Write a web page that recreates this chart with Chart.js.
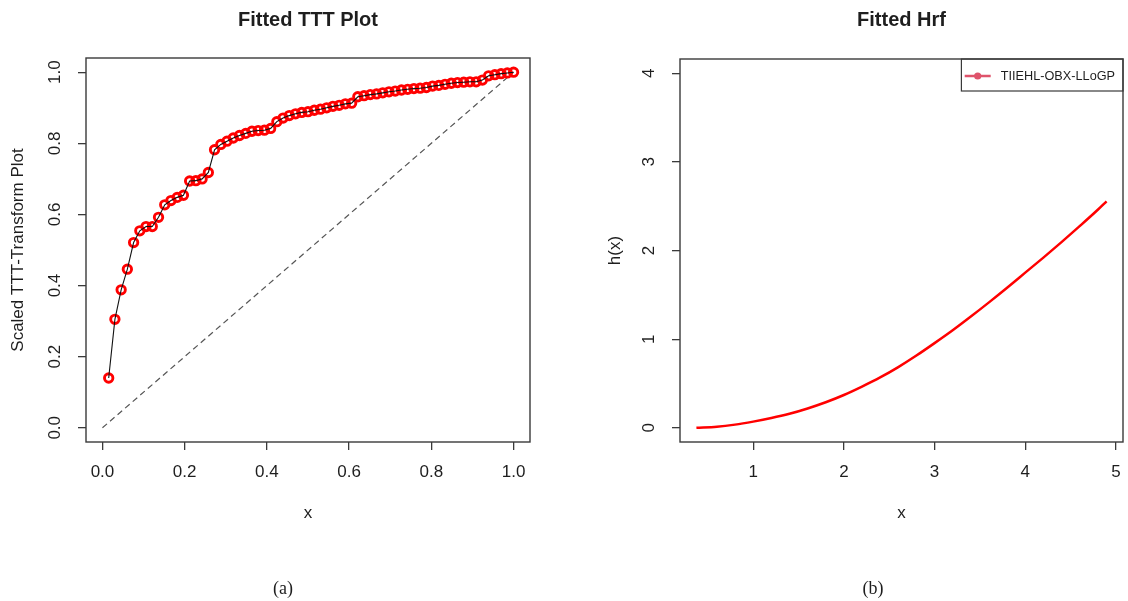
<!DOCTYPE html>
<html>
<head>
<meta charset="utf-8">
<script src="https://cdn.jsdelivr.net/npm/chart.js@4.4.0/dist/chart.umd.min.js"></script>
<style>
  html, body { margin: 0; padding: 0; background: #fff; width: 1128px; height: 601px; overflow: hidden; }
  .panel { position: absolute; top: 0; width: 564px; height: 601px; }
  #pa { left: 0; }
  #pb { left: 564px; }
</style>
</head>
<body>
<div class="panel" id="pa"><canvas id="ca" width="564" height="601"></canvas></div>
<div class="panel" id="pb"><canvas id="cb" width="564" height="601"></canvas></div>
<script>
// ---- Scaled TTT-transform data (i/n, T(i/n)) ----
const tttX = [0.0152, 0.0303, 0.0455, 0.0606, 0.0758, 0.0909, 0.1061, 0.1212, 0.1364, 0.1515,
              0.1667, 0.1818, 0.1970, 0.2121, 0.2273, 0.2424, 0.2576, 0.2727, 0.2879, 0.3030,
              0.3182, 0.3333, 0.3485, 0.3636, 0.3788, 0.3939, 0.4091, 0.4242, 0.4394, 0.4545,
              0.4697, 0.4848, 0.5000, 0.5152, 0.5303, 0.5455, 0.5606, 0.5758, 0.5909, 0.6061,
              0.6212, 0.6364, 0.6515, 0.6667, 0.6818, 0.6970, 0.7121, 0.7273, 0.7424, 0.7576,
              0.7727, 0.7879, 0.8030, 0.8182, 0.8333, 0.8485, 0.8636, 0.8788, 0.8939, 0.9091,
              0.9242, 0.9394, 0.9545, 0.9697, 0.9848, 1.0000];
const tttY = [0.140, 0.305, 0.388, 0.446, 0.521, 0.554, 0.566, 0.566, 0.592, 0.627,
              0.639, 0.648, 0.654, 0.694, 0.695, 0.700, 0.718, 0.782, 0.797, 0.806,
              0.815, 0.822, 0.828, 0.834, 0.836, 0.837, 0.842, 0.861, 0.871, 0.878,
              0.883, 0.887, 0.889, 0.893, 0.896, 0.900, 0.904, 0.907, 0.911, 0.913,
              0.931, 0.934, 0.937, 0.939, 0.942, 0.945, 0.947, 0.950, 0.952, 0.954,
              0.955, 0.957, 0.961, 0.963, 0.966, 0.969, 0.971, 0.972, 0.973, 0.973,
              0.978, 0.990, 0.993, 0.996, 0.998, 1.000];
// reference diagonal (exponential case)
const diagX = [0, 1];
const diagY = [0, 1];
const tttTicks = [0, 0.2, 0.4, 0.6, 0.8, 1.0];

// ---- Fitted hazard rate function ----
const hrfX = [0.374, 0.6, 0.8, 1.0, 1.2, 1.4, 1.6, 1.8, 2.0, 2.2, 2.4, 2.6,
              2.8, 3.0, 3.2, 3.4, 3.6, 3.8, 4.0, 4.2, 4.4, 4.6, 4.8, 4.897];
const hrfY = [0.000, 0.012, 0.036, 0.070, 0.110, 0.158, 0.218, 0.288, 0.370, 0.465, 0.568, 0.685,
              0.815, 0.955, 1.100, 1.255, 1.415, 1.580, 1.750, 1.920, 2.095, 2.275, 2.460, 2.555];
const hrfTicksX = [1, 2, 3, 4, 5];
const hrfTicksY = [0, 1, 2, 3, 4];
const seriesName = 'TIIEHL-OBX-LLoGP';

const SANS = '"Liberation Sans", Arial, Helvetica, sans-serif';
const INK = '#1e1e1e';
const FRAME = '#3a3a3a';

function pts(xs, ys) { return xs.map((x, i) => ({ x: x, y: ys[i] })); }

// R-style axis: tick marks outside the box, labels drawn by the decor plugin
function axis(min, max, ticks, size, isX) {
  return {
    type: 'linear', min: min, max: max,
    afterBuildTicks: s => { s.ticks = ticks.map(v => ({ value: v })); },
    afterFit: s => { if (isX) s.height = size; else s.width = size; },
    ticks: { display: false },
    grid: { display: true, drawOnChartArea: false, drawTicks: true, tickLength: 8,
            color: FRAME, lineWidth: 1.3 },
    border: { display: false }
  };
}

// frame, titles, tick labels, captions and legend
const decor = {
  id: 'decor',
  afterDraw(chart, args, o) {
    const ctx = chart.ctx, ca = chart.chartArea;
    const xs = chart.scales.x, ys = chart.scales.y;
    const cx = (ca.left + ca.right) / 2, cy = (ca.top + ca.bottom) / 2;
    ctx.save();
    ctx.strokeStyle = FRAME; ctx.lineWidth = 1.4;
    ctx.strokeRect(ca.left, ca.top, ca.right - ca.left, ca.bottom - ca.top);

    ctx.fillStyle = INK;
    ctx.textAlign = 'center';
    // main title
    ctx.font = 'bold 20px ' + SANS;
    ctx.textBaseline = 'alphabetic';
    ctx.fillText(o.title, cx, 26);

    // x tick labels
    ctx.font = '17px ' + SANS;
    ctx.textBaseline = 'middle';
    xs.ticks.forEach(t => ctx.fillText(o.fmt(t.value), xs.getPixelForValue(t.value), ca.bottom + 30));
    // y tick labels, rotated
    ys.ticks.forEach(t => {
      ctx.save();
      ctx.translate(ca.left - 31, ys.getPixelForValue(t.value));
      ctx.rotate(-Math.PI / 2);
      ctx.fillText(o.fmt(t.value), 0, 0);
      ctx.restore();
    });
    // axis titles
    ctx.textBaseline = 'alphabetic';
    ctx.fillText(o.xTitle, cx, ca.bottom + 76);
    ctx.save();
    ctx.translate(ca.left - o.yTitleGap, cy);
    ctx.rotate(-Math.PI / 2);
    ctx.textBaseline = 'middle';
    ctx.fillText(o.yTitle, 0, 0);
    ctx.restore();

    // sub-figure caption
    ctx.font = '18px "Liberation Serif", "Times New Roman", serif';
    ctx.textBaseline = 'alphabetic';
    ctx.fillText(o.caption, o.captionX, 594);

    // legend box
    if (o.legend) {
      const w = 161.6, h = 32, lx = ca.right - w, ly = ca.top;
      ctx.strokeStyle = FRAME; ctx.lineWidth = 1.2;
      ctx.strokeRect(lx, ly, w, h);
      const my = ly + 17;
      ctx.strokeStyle = o.legend.color; ctx.lineWidth = 2.5;
      ctx.beginPath(); ctx.moveTo(lx + 3.3, my); ctx.lineTo(lx + 29.3, my); ctx.stroke();
      ctx.fillStyle = o.legend.color;
      ctx.beginPath(); ctx.arc(lx + 16.3, my, 3.6, 0, Math.PI * 2); ctx.fill();
      ctx.fillStyle = INK;
      ctx.font = '12.7px ' + SANS;
      ctx.textAlign = 'left'; ctx.textBaseline = 'middle';
      ctx.fillText(o.legend.text, lx + 39.4, my);
    }
    ctx.restore();
  }
};

Chart.register(decor);

const common = {
  responsive: false, animation: false, devicePixelRatio: 1,
  events: [],
  plugins: { legend: { display: false }, tooltip: { enabled: false }, title: { display: false } }
};

// (a) scaled TTT plot
new Chart(document.getElementById('ca'), {
  type: 'scatter',
  data: {
    datasets: [
      { data: pts(tttX, tttY), showLine: true, borderColor: '#111', borderWidth: 1.1,
        pointRadius: 0, fill: false },
      { data: pts(tttX, tttY), showLine: false, pointStyle: 'circle', pointRadius: 4.2,
        pointBorderColor: '#ff0000', pointBackgroundColor: 'rgba(255,255,255,0)', pointBorderWidth: 2.9 },
      { data: pts(diagX, diagY), showLine: true, borderColor: '#555', borderWidth: 1.2,
        borderDash: [6, 4], pointRadius: 0, fill: false }
    ]
  },
  options: Object.assign({}, common, {
    layout: { padding: { left: 0, top: 58, right: 34, bottom: 0 } },
    scales: { x: axis(-0.04, 1.04, tttTicks, 159, true), y: axis(-0.04, 1.04, tttTicks, 86, false) },
    plugins: Object.assign({}, common.plugins, {
      decor: { title: 'Fitted TTT Plot', xTitle: 'x', yTitle: 'Scaled TTT-Transform Plot',
               yTitleGap: 68, caption: '(a)', captionX: 283, fmt: v => v.toFixed(1) }
    })
  })
});

// (b) fitted hazard rate function
new Chart(document.getElementById('cb'), {
  type: 'scatter',
  data: {
    datasets: [
      { data: pts(hrfX, hrfY), showLine: true, borderColor: '#ff0000', borderWidth: 2.5,
        cubicInterpolationMode: 'monotone', pointRadius: 0, fill: false }
    ]
  },
  options: Object.assign({}, common, {
    layout: { padding: { left: 0, top: 59, right: 5, bottom: 0 } },
    scales: { x: axis(0.193, 5.078, hrfTicksX, 159, true), y: axis(-0.16, 4.16, hrfTicksY, 116, false) },
    plugins: Object.assign({}, common.plugins, {
      decor: { title: 'Fitted Hrf', xTitle: 'x', yTitle: 'h(x)', yTitleGap: 65,
               caption: '(b)', captionX: 309, fmt: v => String(v),
               legend: { text: seriesName, color: '#DF536B' } }
    })
  })
});
</script>
</body>
</html>
